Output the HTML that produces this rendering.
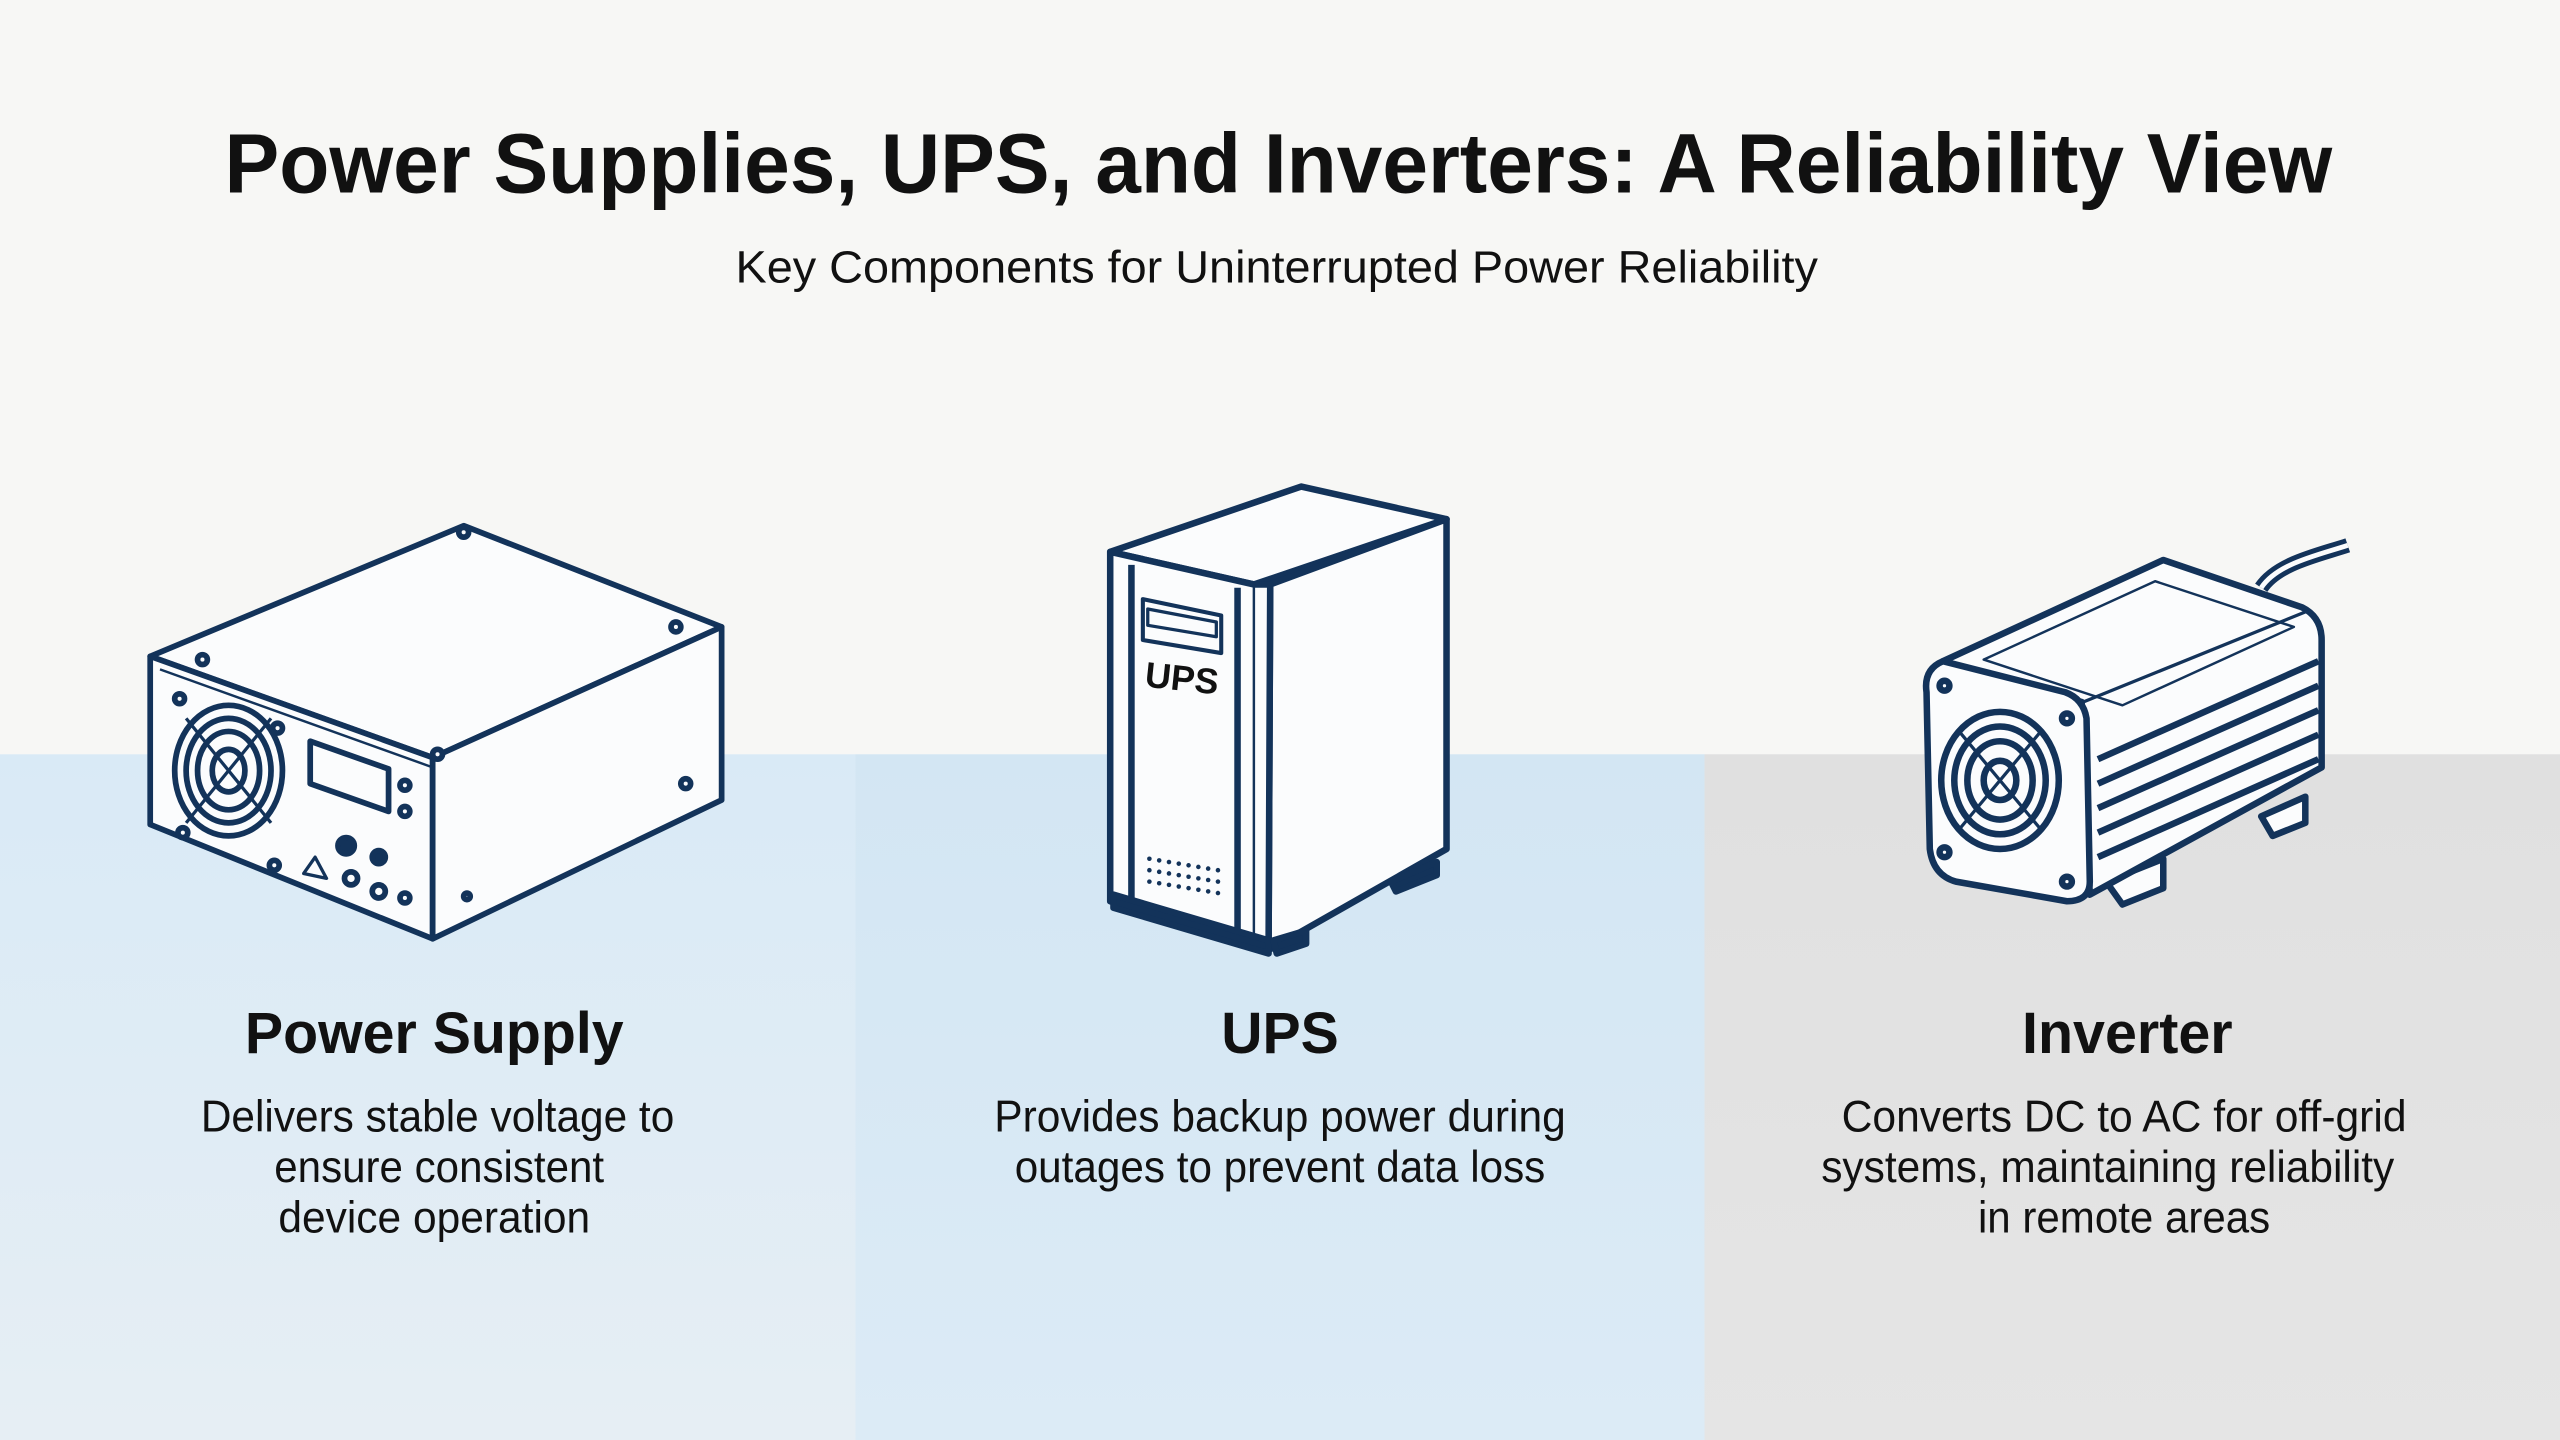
<!DOCTYPE html>
<html><head><meta charset="utf-8"><style>
html,body{margin:0;padding:0;background:#f7f7f5;}
svg{display:block;}
text{font-family:"Liberation Sans",Arial,sans-serif;fill:#111;}
</style></head><body>
<svg width="2560" height="1440" viewBox="0 0 1568 882" xmlns="http://www.w3.org/2000/svg">
<defs>
<linearGradient id="g1" x1="0" y1="0" x2="0" y2="1"><stop offset="0" stop-color="#d9eaf6"/><stop offset="1" stop-color="#e6eef4"/></linearGradient>
<linearGradient id="g2" x1="0" y1="0" x2="0" y2="1"><stop offset="0" stop-color="#d3e6f3"/><stop offset="1" stop-color="#dcebf6"/></linearGradient>
<linearGradient id="g3" x1="0" y1="0" x2="0" y2="1"><stop offset="0" stop-color="#e0e0e0"/><stop offset="1" stop-color="#e5e5e5"/></linearGradient>
</defs>
<rect width="1568" height="882" fill="#f7f7f5"/>
<rect x="0" y="462" width="524" height="420" fill="url(#g1)"/>
<rect x="524" y="462" width="520" height="420" fill="url(#g2)"/>
<rect x="1044" y="462" width="524" height="420" fill="url(#g3)"/>

<text x="783" y="118" text-anchor="middle" font-size="52" font-weight="bold" textLength="1291" lengthAdjust="spacingAndGlyphs">Power Supplies, UPS, and Inverters: A Reliability View</text>
<text x="782" y="173" text-anchor="middle" font-size="28" textLength="663" lengthAdjust="spacingAndGlyphs">Key Components for Uninterrupted Power Reliability</text>

<!-- Power supply -->
<g fill="#fbfcfd" stroke="#13335a" stroke-width="3.5" stroke-linejoin="round">
<polygon points="92,402 284,322 442,384 265,464"/>
<polygon points="92,402 265,464 265,575 92,505"/>
<polygon points="265,464 442,384 442,490 265,575"/>
<polyline points="98,410 265,470" fill="none" stroke-width="1.5"/>
<ellipse cx="140" cy="472" rx="33" ry="40"/><ellipse cx="140" cy="472" rx="26" ry="32"/><ellipse cx="140" cy="472" rx="19" ry="24"/><ellipse cx="140" cy="472" rx="10" ry="13"/>
<line x1="114" y1="440" x2="166" y2="504" stroke-width="2"/><line x1="166" y1="440" x2="114" y2="504" stroke-width="2"/>
<polygon points="190,454 238,471 238,497 190,480"/>
<circle cx="110" cy="428" r="3"/><circle cx="170" cy="446" r="3"/><circle cx="112" cy="510" r="3"/><circle cx="168" cy="530" r="3"/>
<circle cx="248" cy="481" r="3"/><circle cx="248" cy="497" r="3"/><circle cx="212" cy="518" r="5" fill="#13335a"/><circle cx="232" cy="525" r="4" fill="#13335a"/><circle cx="215" cy="538" r="4"/><circle cx="232" cy="546" r="4"/><circle cx="248" cy="550" r="3"/>
<polygon points="193,525 200,538 186,535" stroke-width="2"/>
<circle cx="284" cy="326" r="3"/><circle cx="414" cy="384" r="3"/><circle cx="124" cy="404" r="3"/><circle cx="268" cy="462" r="3"/><circle cx="420" cy="480" r="3"/><circle cx="286" cy="549" r="2"/>
</g>

<!-- UPS -->
<g fill="#fbfcfd" stroke="#13335a" stroke-width="4" stroke-linejoin="round">
<polygon points="680,338 797,298 886,318 768,358"/>
<polygon points="886,318 886,520 777,582 778,358"/>
<polygon points="680,338 768,358 778,358 777,582 680,552" />
<line x1="693" y1="346" x2="693" y2="556"/>
<line x1="758" y1="360" x2="758" y2="578"/>
<line x1="768" y1="358" x2="768" y2="580" stroke-width="1.5"/>
<polygon points="700,367 748,377 748,400 700,392" stroke-width="2.5"/>
<polygon points="703,373 745,381 745,390 703,383" stroke-width="2"/>
<path d="M682,548 L777,576 L777,584 L682,556 Z" fill="#13335a"/>
<polygon points="780,576 800,570 800,578 782,584" fill="#13335a"/>
<polygon points="852,540 880,528 880,536 855,546" fill="#13335a"/>
</g>
<text x="724" y="423" text-anchor="middle" font-size="22" font-weight="bold" fill="#13335a" transform="rotate(6 724 415)">UPS</text>
<g fill="#13335a">
<circle cx="704" cy="526" r="1.4"/><circle cx="710" cy="527" r="1.4"/><circle cx="716" cy="528" r="1.4"/><circle cx="722" cy="529" r="1.4"/><circle cx="728" cy="530" r="1.4"/><circle cx="734" cy="531" r="1.4"/><circle cx="740" cy="532" r="1.4"/><circle cx="746" cy="533" r="1.4"/>
<circle cx="704" cy="533" r="1.4"/><circle cx="710" cy="534" r="1.4"/><circle cx="716" cy="535" r="1.4"/><circle cx="722" cy="536" r="1.4"/><circle cx="728" cy="537" r="1.4"/><circle cx="734" cy="538" r="1.4"/><circle cx="740" cy="539" r="1.4"/><circle cx="746" cy="540" r="1.4"/>
<circle cx="704" cy="540" r="1.4"/><circle cx="710" cy="541" r="1.4"/><circle cx="716" cy="542" r="1.4"/><circle cx="722" cy="543" r="1.4"/><circle cx="728" cy="544" r="1.4"/><circle cx="734" cy="545" r="1.4"/><circle cx="740" cy="546" r="1.4"/><circle cx="746" cy="547" r="1.4"/>
</g>

<!-- Inverter -->
<g fill="#fbfcfd" stroke="#13335a" stroke-width="4" stroke-linejoin="round">
<path d="M1385,360 C1395,345 1420,340 1438,334" fill="none" stroke-width="9"/>
<path d="M1385,360 C1395,345 1420,340 1438,334" fill="none" stroke="#fbfcfd" stroke-width="3"/>
<polygon points="1385,500 1412,488 1412,504 1392,512"/>
<polygon points="1290,540 1325,526 1325,544 1300,554"/>
<path d="M1190,405 L1325,343 L1410,372 Q1422,378 1422,392 L1422,470 L1280,548 L1275,430 Z"/>
<path d="M1190,405 Q1178,410 1180,424 L1182,520 Q1184,536 1198,540 L1266,552 Q1280,552 1280,540 L1278,440 Q1276,428 1265,424 Z"/>
<line x1="1276" y1="430" x2="1414" y2="374" stroke-width="2"/>
<polygon points="1215,404 1320,356 1405,384 1300,432" fill="none" stroke-width="1.5"/>
<line x1="1285" y1="465" x2="1420" y2="405"/><line x1="1285" y1="480" x2="1420" y2="420"/><line x1="1285" y1="495" x2="1420" y2="435"/><line x1="1285" y1="510" x2="1420" y2="450"/><line x1="1285" y1="525" x2="1420" y2="465"/>
<ellipse cx="1225" cy="478" rx="36" ry="42"/><ellipse cx="1225" cy="478" rx="28" ry="33"/><ellipse cx="1225" cy="478" rx="20" ry="24"/><ellipse cx="1225" cy="478" rx="10" ry="12"/>
<line x1="1200" y1="448" x2="1250" y2="508" stroke-width="2"/><line x1="1250" y1="448" x2="1200" y2="508" stroke-width="2"/>
<circle cx="1191" cy="420" r="3"/><circle cx="1266" cy="440" r="3"/><circle cx="1191" cy="522" r="3"/><circle cx="1266" cy="540" r="3"/>
</g>

<g text-anchor="middle">
<text x="266" y="645" font-size="36" font-weight="bold" textLength="232" lengthAdjust="spacingAndGlyphs">Power Supply</text>
<text x="784" y="645" font-size="36" font-weight="bold" textLength="72" lengthAdjust="spacingAndGlyphs">UPS</text>
<text x="1303" y="645" font-size="36" font-weight="bold" textLength="129" lengthAdjust="spacingAndGlyphs">Inverter</text>
<g font-size="27">
<text x="268" y="693" textLength="290" lengthAdjust="spacingAndGlyphs">Delivers stable voltage to</text>
<text x="269" y="724" textLength="202" lengthAdjust="spacingAndGlyphs">ensure consistent</text>
<text x="266" y="755" textLength="191" lengthAdjust="spacingAndGlyphs">device operation</text>
<text x="784" y="693" textLength="350" lengthAdjust="spacingAndGlyphs">Provides backup power during</text>
<text x="784" y="724" textLength="325" lengthAdjust="spacingAndGlyphs">outages to prevent data loss</text>
<text x="1301" y="693" textLength="346" lengthAdjust="spacingAndGlyphs">Converts DC to AC for off-grid</text>
<text x="1291" y="724" textLength="351" lengthAdjust="spacingAndGlyphs">systems, maintaining reliability</text>
<text x="1301" y="755" textLength="179" lengthAdjust="spacingAndGlyphs">in remote areas</text>
</g>
</g>
</svg>
</body></html>
